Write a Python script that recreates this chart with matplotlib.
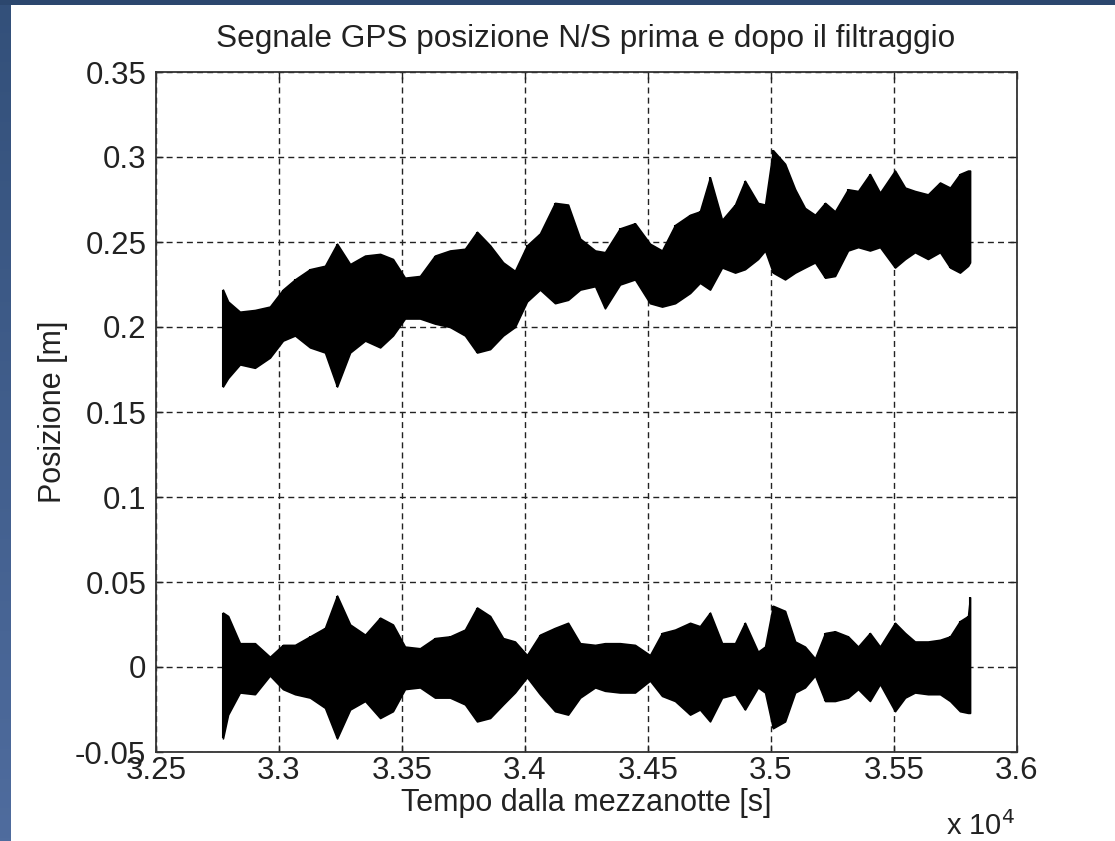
import numpy as np
import matplotlib
matplotlib.use("Agg")
import matplotlib.pyplot as plt
from matplotlib.ticker import FixedLocator
from matplotlib.colors import LinearSegmentedColormap

plt.rcParams['font.family'] = ['Liberation Sans', 'DejaVu Sans']
plt.rcParams['lines.scale_dashes'] = False

# ---- data: time [s], envelopes of the two signals ----
time_s = [32772, 32793, 32841, 32902, 32963, 33016, 33065, 33126, 33187, 33236,
          33289, 33350, 33411, 33463, 33512, 33573, 33634, 33695, 33756, 33805,
          33858, 33911, 33959, 34008, 34061, 34122, 34175, 34224, 34285, 34325,
          34386, 34447, 34508, 34557, 34610, 34671, 34711, 34752, 34801, 34854,
          34894, 34947, 34976, 35008, 35057, 35098, 35138, 35179, 35220, 35260,
          35313, 35354, 35402, 35443, 35504, 35545, 35585, 35638, 35687, 35728,
          35768, 35801, 35809]

raw_upper = [0.222, 0.215, 0.209, 0.210, 0.212, 0.222, 0.228, 0.234, 0.236, 0.249,
             0.237, 0.242, 0.243, 0.240, 0.229, 0.230, 0.242, 0.245, 0.246, 0.256,
             0.248, 0.238, 0.233, 0.248, 0.255, 0.273, 0.272, 0.252, 0.245, 0.244,
             0.258, 0.261, 0.249, 0.245, 0.260, 0.266, 0.268, 0.288, 0.263, 0.272,
             0.286, 0.273, 0.272, 0.304, 0.296, 0.281, 0.270, 0.266, 0.273, 0.268,
             0.281, 0.280, 0.290, 0.279, 0.292, 0.282, 0.280, 0.278, 0.285, 0.282,
             0.290, 0.292, 0.292]
raw_lower = [0.165, 0.170, 0.178, 0.176, 0.182, 0.192, 0.195, 0.188, 0.185, 0.165,
             0.185, 0.192, 0.188, 0.195, 0.205, 0.205, 0.202, 0.200, 0.195, 0.185,
             0.187, 0.195, 0.200, 0.215, 0.222, 0.214, 0.216, 0.222, 0.224, 0.211,
             0.225, 0.228, 0.214, 0.212, 0.214, 0.220, 0.226, 0.222, 0.235, 0.232,
             0.234, 0.240, 0.245, 0.232, 0.228, 0.232, 0.235, 0.238, 0.229, 0.230,
             0.245, 0.247, 0.245, 0.247, 0.235, 0.240, 0.244, 0.240, 0.244, 0.235,
             0.232, 0.236, 0.238]

filt_upper = [0.032, 0.030, 0.014, 0.014, 0.006, 0.013, 0.013, 0.018, 0.023, 0.042,
              0.025, 0.019, 0.029, 0.025, 0.012, 0.011, 0.017, 0.018, 0.022, 0.035,
              0.030, 0.017, 0.015, 0.007, 0.019, 0.023, 0.026, 0.014, 0.013, 0.014,
              0.014, 0.013, 0.007, 0.020, 0.022, 0.026, 0.024, 0.032, 0.014, 0.014,
              0.026, 0.009, 0.012, 0.036, 0.033, 0.015, 0.012, 0.005, 0.020, 0.021,
              0.018, 0.012, 0.020, 0.012, 0.026, 0.020, 0.015, 0.015, 0.016, 0.018,
              0.027, 0.030, 0.041]
filt_lower = [-0.042, -0.028, -0.015, -0.016, -0.005, -0.013, -0.016, -0.018, -0.024, -0.042,
              -0.025, -0.020, -0.030, -0.026, -0.013, -0.012, -0.018, -0.018, -0.022, -0.032,
              -0.030, -0.022, -0.015, -0.006, -0.016, -0.026, -0.028, -0.018, -0.012, -0.014,
              -0.015, -0.015, -0.008, -0.017, -0.020, -0.028, -0.025, -0.032, -0.018, -0.016,
              -0.025, -0.012, -0.015, -0.036, -0.032, -0.015, -0.012, -0.005, -0.020, -0.020,
              -0.018, -0.013, -0.020, -0.010, -0.026, -0.018, -0.015, -0.016, -0.016, -0.020,
              -0.026, -0.027, -0.027]

x_ticks = [32500, 33000, 33500, 34000, 34500, 35000, 35500, 36000]
x_tick_labels = ["3.25", "3.3", "3.35", "3.4", "3.45", "3.5", "3.55", "3.6"]
y_ticks = [-0.05, 0, 0.05, 0.1, 0.15, 0.2, 0.25, 0.3, 0.35]
y_tick_labels = ["-0.05", "0", "0.05", "0.1", "0.15", "0.2", "0.25", "0.3", "0.35"]

title = "Segnale GPS posizione N/S prima e dopo il filtraggio"
xlabel = "Tempo dalla mezzanotte [s]"
ylabel = "Posizione [m]"

# ---- figure ----
W, H = 1115, 841
fig = plt.figure(figsize=(W / 100, H / 100), dpi=100, facecolor='white')

# slide background strips (left gradient, top band)
bg_left = fig.add_axes([0, 0, 11 / W, 1])
grad = np.linspace(0, 1, 256).reshape(-1, 1)
cmap_bg = LinearSegmentedColormap.from_list('bg', ['#33507a', '#4f6c9e'])
bg_left.imshow(grad, aspect='auto', cmap=cmap_bg, extent=[0, 1, 0, 1], origin='upper')
bg_left.set_axis_off()
bg_top = fig.add_axes([0, 1 - 5 / H, 1, 5 / H])
bg_top.set_facecolor('#2c476e')
bg_top.set_xticks([]); bg_top.set_yticks([])
for s in bg_top.spines.values():
    s.set_visible(False)

ax = fig.add_axes([156 / W, 1 - 752 / H, (1017 - 156) / W, (752 - 72) / H])
ax.set_xlim(32500, 36000)
ax.set_ylim(-0.05, 0.35)

t = np.array(time_s)
ax.fill_between(t, raw_lower, raw_upper, color='black', lw=1.2, zorder=3)
ax.fill_between(t, filt_lower, filt_upper, color='black', lw=1.2, zorder=3)
ax.vlines(t, raw_lower, raw_upper, color='black', lw=1.5, zorder=3)
ax.vlines(t, filt_lower, filt_upper, color='black', lw=1.5, zorder=3)

ax.xaxis.set_major_locator(FixedLocator(x_ticks))
ax.set_xticklabels(x_tick_labels)
ax.yaxis.set_major_locator(FixedLocator(y_ticks))
ax.set_yticklabels(y_tick_labels)

ax.grid(True, color='#222222', linestyle=(0, (4.3, 3.0)), linewidth=1.0, zorder=1)
ax.set_axisbelow(True)
ax.tick_params(direction='in', length=5, width=1, colors='#222222',
               labelsize=22.5, top=True, right=True)
ax.tick_params(axis='x', pad=3)
ax.tick_params(axis='y', pad=7)
for s in ax.spines.values():
    s.set_color('#333333')
    s.set_linewidth(1.3)

txt = dict(color='#222222')
fig.text(586 / W, 1 - 47 / H, title, ha='center', va='baseline', fontsize=22.7, **txt)
fig.text(586 / W, 1 - 803 / H, xlabel, ha='center', va='center', fontsize=22, **txt)
fig.text(53 / W, 1 - 412 / H, ylabel, ha='center', va='center', rotation=90,
         fontsize=22, **txt)
fig.text(946 / W, 1 - 835 / H, r"x 10$^4$", ha='left', va='baseline', fontsize=21, **txt)

fig.savefig('out.png', dpi=100, facecolor='white')
